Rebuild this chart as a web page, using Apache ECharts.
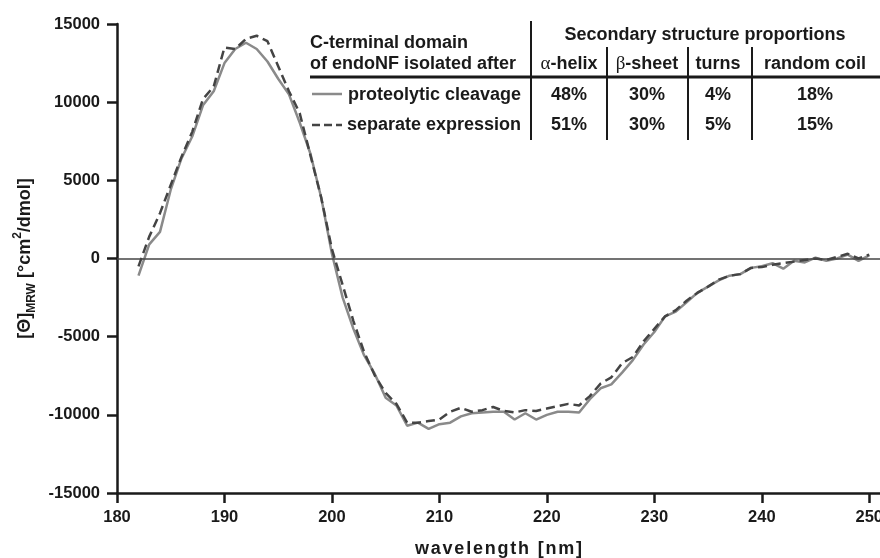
<!DOCTYPE html>
<html>
<head>
<meta charset="utf-8">
<script src="https://cdn.jsdelivr.net/npm/echarts@6/dist/echarts.min.js"></script>
<style>
html,body{margin:0;padding:0;background:#fff;}
#chart{width:880px;height:558px;}
</style>
</head>
<body>
<div id="chart"></div>
<script>
// ---- data ----
const wavelengths = [];
for (let w = 182; w <= 250; w++) wavelengths.push(w);

const proteolyticCleavage = [
  -1100, 900, 1700, 4400, 6400, 7800, 9800, 10700, 12500, 13400,
  13800, 13400, 12600, 11500, 10500, 8700, 6700, 3900, 300, -2500,
  -4500, -6200, -7400, -8900, -9400, -10700, -10500, -10900, -10600, -10500,
  -10100, -9900, -9850, -9800, -9800, -10300, -9900, -10300, -10000, -9800,
  -9800, -9850, -9000, -8300, -8050, -7300, -6500, -5500, -4700, -3700,
  -3400, -2800, -2200, -1800, -1400, -1100, -1000, -600, -500, -300,
  -650, -150, -250, 50, -150, 0, 250, -150, 200
];
const separateExpression = [
  -500, 1400, 2900, 4700, 6500, 8100, 10200, 11000, 13500, 13400,
  14050, 14250, 13900, 12300, 10700, 9300, 6600, 3900, 600, -1700,
  -4000, -6000, -7500, -8600, -9300, -10500, -10500, -10400, -10300, -9800,
  -9550, -9800, -9700, -9500, -9750, -9850, -9700, -9750, -9600, -9450,
  -9300, -9400, -8800, -8000, -7600, -6700, -6300, -5300, -4500, -3700,
  -3300, -2700, -2200, -1800, -1350, -1100, -1000, -600, -550, -400,
  -300, -200, -100, 0, -100, 100, 300, 0, 250
];
const xTicks = [180, 190, 200, 210, 220, 230, 240, 250];
const yTicks = [-15000, -10000, -5000, 0, 5000, 10000, 15000];

const seriesNames = ['proteolytic cleavage', 'separate expression'];
const xTitle = 'wavelength [nm]';
const tableTitle = 'Secondary structure proportions';
const rowHeader = ['C-terminal domain', 'of endoNF isolated after'];
const tableColumns = ['{g|\u03b1}-helix', '{g|\u03b2}-sheet', 'turns', 'random coil'];
const proteolyticProps = ['48%', '30%', '4%', '18%'];
const separateProps = ['51%', '30%', '5%', '15%'];

// ---- chart ----
const FONT = '"Liberation Sans", Arial, sans-serif';
const TXT = '#1a1a1a';
const toPairs = (ys) => wavelengths.map((w, i) => [w, ys[i]]);

const colX = [569, 647, 718, 815];
const rowY = [95, 125];

const graphics = [];
function txt(text, x, y, align) {
  graphics.push({
    type: 'text', x: x, y: y, silent: true, z: 50,
    style: {
      text: text, fill: TXT, font: 'bold 18px ' + FONT,
      textAlign: align, textVerticalAlign: 'middle',
      rich: { g: { fontFamily: '"Liberation Serif", serif', fontWeight: 'normal', fontSize: 19, fill: TXT } }
    }
  });
}
function line(x1, y1, x2, y2, w, dash, color) {
  graphics.push({
    type: 'line', silent: true, z: 50,
    shape: { x1: x1, y1: y1, x2: x2, y2: y2 },
    style: { stroke: color || TXT, lineWidth: w, lineDash: dash || null }
  });
}
txt(tableTitle, 705, 35, 'center');
txt(rowHeader[0], 310, 43, 'left');
txt(rowHeader[1], 310, 64, 'left');
tableColumns.forEach((c, i) => txt(c, colX[i], 64, 'center'));
txt(seriesNames[0], 521, rowY[0], 'right');
txt(seriesNames[1], 521, rowY[1], 'right');
proteolyticProps.forEach((v, i) => txt(v, colX[i], rowY[0], 'center'));
separateProps.forEach((v, i) => txt(v, colX[i], rowY[1], 'center'));
line(310, 77, 880, 77, 3);
line(531, 21, 531, 140, 2);
line(607, 47, 607, 140, 2);
line(688, 47, 688, 140, 2);
line(752, 47, 752, 140, 2);
line(312, 94, 342, 94, 2.5, null, '#8a8a8a');
line(312, 125, 342, 125, 2.5, [8, 4], '#444444');

// letter-spaced x axis title (each character a rich-text fragment)
const xTitleRich = xTitle.split('').map(ch => '{c|' + ch + '}').join('');

const chart = echarts.init(document.getElementById('chart'), null, { renderer: 'canvas' });
chart.setOption({
  animation: false,
  backgroundColor: '#ffffff',
  grid: { left: 117, right: 0, top: 24, bottom: 65, containLabel: false, outerBoundsMode: 'none' },
  xAxis: {
    type: 'value', min: 180, max: 251, interval: 10,
    name: xTitleRich, nameLocation: 'middle', nameGap: 47,
    nameTextStyle: {
      fontFamily: FONT, fontWeight: 'bold', fontSize: 18, color: TXT,
      rich: { c: { fontFamily: FONT, fontWeight: 'bold', fontSize: 18, color: TXT, padding: [0, 0.9, 0, 0.9] } }
    },
    axisLine: { show: true, onZero: false, lineStyle: { color: TXT, width: 2.5 } },
    axisTick: { show: true, length: 10, customValues: xTicks, lineStyle: { color: TXT, width: 2.5 } },
    axisLabel: { customValues: xTicks, fontFamily: FONT, fontWeight: 'bold', fontSize: 16.5, color: TXT, margin: 16 },
    splitLine: { show: false }
  },
  yAxis: {
    type: 'value', min: -15000, max: 15000, interval: 5000,
    name: '{a|[\u0398]}{sub|MRW}{a| [\u00b0cm}{sup|2}{a|/dmol]}',
    nameLocation: 'middle', nameRotate: 90, nameGap: 78,
    nameTextStyle: {
      fontFamily: FONT, fontWeight: 'bold', fontSize: 18, color: TXT,
      rich: {
        a: { fontFamily: FONT, fontWeight: 'bold', fontSize: 18, color: TXT, lineHeight: 26, verticalAlign: 'middle' },
        sub: { fontFamily: FONT, fontWeight: 'bold', fontSize: 12, color: TXT, lineHeight: 26, verticalAlign: 'bottom' },
        sup: { fontFamily: FONT, fontWeight: 'bold', fontSize: 12, color: TXT, lineHeight: 26, verticalAlign: 'top' }
      }
    },
    axisLine: { show: true, onZero: false, lineStyle: { color: TXT, width: 2.5 } },
    axisTick: { show: true, length: 10, customValues: yTicks, lineStyle: { color: TXT, width: 2.5 } },
    axisLabel: {
      customValues: yTicks, fontFamily: FONT, fontWeight: 'bold', fontSize: 16.5, color: TXT, margin: 17,
      formatter: (v) => String(v)
    },
    splitLine: { show: false }
  },
  series: [
    {
      name: seriesNames[0], type: 'line', data: toPairs(proteolyticCleavage),
      showSymbol: false, symbol: 'none', smooth: false,
      lineStyle: { color: '#8a8a8a', width: 2.5 },
      markLine: {
        silent: true, symbol: ['none', 'none'], label: { show: false },
        lineStyle: { color: '#444', width: 1.5, type: 'solid' },
        data: [{ yAxis: 0 }]
      },
      z: 2
    },
    {
      name: seriesNames[1], type: 'line', data: toPairs(separateExpression),
      showSymbol: false, symbol: 'none', smooth: false,
      lineStyle: { color: '#444444', width: 2.5, type: [9, 5] },
      z: 3
    }
  ],
  graphic: graphics
});
</script>
</body>
</html>
